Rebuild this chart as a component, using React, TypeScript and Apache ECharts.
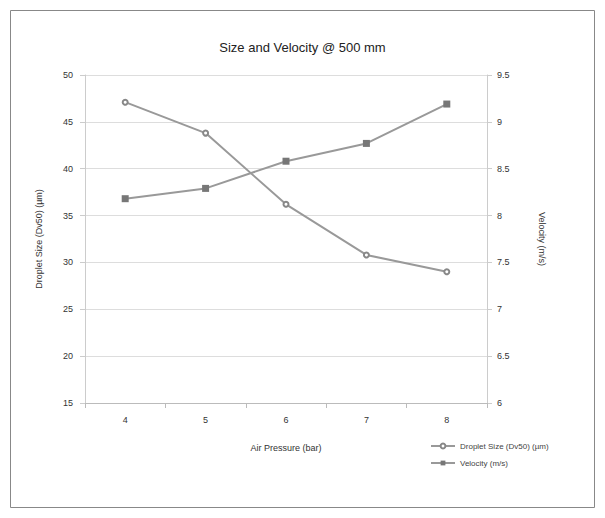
import React, { useEffect, useRef } from "react";
import * as echarts from "echarts";

const categories = ["4", "5", "6", "7", "8"];
const dropletSize = [47.1, 43.8, 36.2, 30.8, 29.0];
const velocity = [8.18, 8.29, 8.58, 8.77, 9.19];
const leftTicks = { min: 15, max: 50, interval: 5 };
const rightTicks = { min: 6, max: 9.5, interval: 0.5 };
const titleText = "Size and Velocity @ 500 mm";
const xName = "Air Pressure (bar)";
const leftName = "Droplet Size (Dv50) (\u00b5m)";
const rightName = "Velocity (m/s)";
const seriesNames = [leftName, rightName];

export default function App() {
  const ref = useRef<HTMLDivElement>(null);
  useEffect(() => {
    document.body.style.margin = "0";
    if (!ref.current) return;
    const chart = echarts.init(ref.current, null, { renderer: "svg" });
    const font = "Liberation Sans, Arial, sans-serif";
    chart.setOption({
      animation: false,
      backgroundColor: "#fff",
      textStyle: { fontFamily: font },
      title: {
        text: titleText,
        left: "center",
        top: 36,
        textStyle: { fontSize: 13, fontWeight: "normal", color: "#222", fontFamily: font },
      },
      graphic: [
        {
          type: "rect",
          shape: { x: 10.5, y: 10.5, width: 584, height: 497 },
          style: { fill: "none", stroke: "#888", lineWidth: 1 },
          silent: true,
        },
      ],
      legend: {
        orient: "vertical",
        left: 425,
        top: 437,
        itemGap: 9,
        itemWidth: 24,
        itemHeight: 6,
        textStyle: { fontSize: 8, color: "#444", fontFamily: font },
        data: seriesNames,
      },
      grid: { left: 85, right: 118, top: 75, bottom: 115 },
      xAxis: {
        type: "category",
        data: categories,
        boundaryGap: true,
        name: xName,
        nameLocation: "middle",
        nameGap: 40,
        nameTextStyle: { fontSize: 9, color: "#333" },
        axisLine: { lineStyle: { color: "#bbb" } },
        axisTick: { show: true, alignWithLabel: false, lineStyle: { color: "#bbb" } },
        axisLabel: { fontSize: 9, color: "#333", margin: 12 },
      },
      yAxis: [
        {
          type: "value",
          min: leftTicks.min,
          max: leftTicks.max,
          interval: leftTicks.interval,
          name: leftName,
          nameLocation: "middle",
          nameGap: 42,
          nameTextStyle: { fontSize: 9, color: "#333" },
          axisLine: { show: true, lineStyle: { color: "#ccc" } },
          axisTick: { show: true, lineStyle: { color: "#ccc" } },
          axisLabel: { fontSize: 9, color: "#333", margin: 12 },
          splitLine: { show: true, lineStyle: { color: "#ddd", width: 1 } },
        },
        {
          type: "value",
          min: rightTicks.min,
          max: rightTicks.max,
          interval: rightTicks.interval,
          name: rightName,
          nameLocation: "middle",
          nameGap: 50,
          nameRotate: 270,
          nameTextStyle: { fontSize: 9, color: "#333" },
          axisLine: { show: true, lineStyle: { color: "#ccc" } },
          axisTick: { show: true, lineStyle: { color: "#ccc" } },
          axisLabel: { fontSize: 9, color: "#333", margin: 10 },
          splitLine: { show: false },
        },
      ],
      series: [
        {
          name: seriesNames[0],
          type: "line",
          yAxisIndex: 0,
          data: dropletSize,
          symbol: "emptyCircle",
          symbolSize: 5,
          lineStyle: { color: "#999", width: 2 },
          itemStyle: { color: "#888", borderColor: "#888" },
        },
        {
          name: seriesNames[1],
          type: "line",
          yAxisIndex: 1,
          data: velocity,
          symbol: "rect",
          symbolSize: 7,
          lineStyle: { color: "#999", width: 2 },
          itemStyle: { color: "#777" },
        },
      ],
    });
    return () => chart.dispose();
  }, []);
  return <div ref={ref} style={{ width: 605, height: 518 }} />;
}
